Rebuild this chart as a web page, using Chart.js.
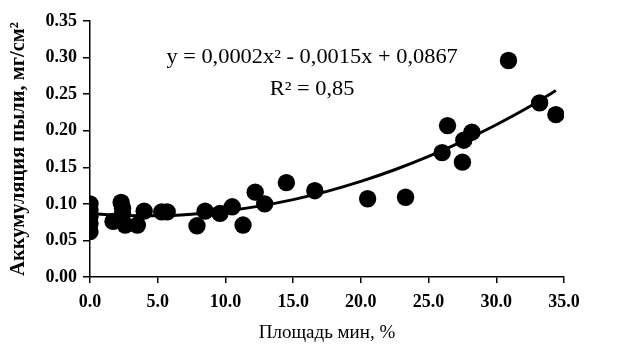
<!DOCTYPE html>
<html>
<head>
<meta charset="utf-8">
<script src="https://cdn.jsdelivr.net/npm/chart.js@4"></script>
<style>
html,body{margin:0;padding:0;background:#fff;}
#wrap{width:617px;height:353px;}
</style>
</head>
<body>
<div id="wrap"><canvas id="c" width="617" height="353"></canvas></div>
<script>
// Scatter points: mine area, % vs dust accumulation, mg/cm2
const areaPct = [0, 0, 0, 0, 0, 1.7, 2.3, 2.4, 2.4, 2.6, 3.5, 4.0, 5.3, 5.7, 7.9, 8.5, 9.6, 10.5, 11.3, 12.2, 12.9, 14.5, 16.6, 20.5, 23.3, 26.0, 26.4, 27.5, 27.6, 28.2, 30.9, 33.2, 34.4];
const dustAcc = [0.100, 0.092, 0.083, 0.073, 0.062, 0.076, 0.102, 0.094, 0.086, 0.071, 0.071, 0.090, 0.089, 0.089, 0.070, 0.090, 0.087, 0.096, 0.071, 0.116, 0.100, 0.129, 0.118, 0.107, 0.109, 0.170, 0.207, 0.157, 0.187, 0.198, 0.296, 0.238, 0.222];

// Trend curve
const trendX = [0, 2.5, 5, 7.5, 10, 12.5, 15, 17.5, 20, 22.5, 25, 27.5, 30, 32.5, 34.4];
const trendY = [0.0867, 0.0841, 0.0838, 0.0859, 0.0902, 0.0969, 0.1058, 0.1171, 0.1307, 0.1466, 0.1648, 0.1854, 0.2082, 0.2334, 0.2550];

const xTicks = [0, 5, 10, 15, 20, 25, 30, 35];
const yTicks = [0, 0.05, 0.10, 0.15, 0.20, 0.25, 0.30, 0.35];

const equationLine = 'y = 0,0002x² - 0,0015x + 0,0867';
const r2Line = 'R² = 0,85';
const xTitle = 'Площадь мин, %';
const yTitle = 'Аккумуляция пыли, мг/см²';

const FONT = "'Liberation Serif', 'Times New Roman', serif";

const annotationPlugin = {
  id: 'eqText',
  afterDraw(chart) {
    const ctx = chart.ctx;
    const xs = chart.scales.x, ys = chart.scales.y;
    const cx = xs.getPixelForValue(16.4);
    const stretch = 1.12;
    ctx.save();
    ctx.fillStyle = '#000';
    ctx.font = "20px " + FONT;
    ctx.textAlign = 'center';
    ctx.textBaseline = 'alphabetic';
    ctx.translate(cx, 0);
    ctx.scale(stretch, 1);
    ctx.fillText(equationLine, 0, ys.getPixelForValue(0.292));
    ctx.fillText(r2Line, 0, ys.getPixelForValue(0.249));
    ctx.restore();
  }
};

const trendData = trendX.map((x, i) => ({x: x, y: trendY[i]}));
const pointData = areaPct.map((x, i) => ({x: x, y: dustAcc[i]}));

new Chart(document.getElementById('c'), {
  type: 'scatter',
  data: {
    datasets: [
      {
        type: 'line',
        data: trendData,
        borderColor: '#000',
        borderWidth: 3,
        pointRadius: 0,
        fill: false,
        tension: 0.4,
        cubicInterpolationMode: 'monotone',
        order: 2
      },
      {
        data: pointData,
        backgroundColor: '#000',
        borderColor: '#000',
        borderWidth: 0,
        pointRadius: 8.7,
        order: 1
      }
    ]
  },
  options: {
    responsive: false,
    devicePixelRatio: 1,
    animation: false,
    layout: { padding: { top: 21, right: 53, left: 0, bottom: 0 } },
    plugins: { legend: { display: false }, tooltip: { enabled: false } },
    scales: {
      x: {
        type: 'linear',
        min: 0, max: 35,
        afterFit(s) { s.height = 76; },
        afterBuildTicks(s) { s.ticks = xTicks.map(v => ({value: v})); },
        ticks: {
          color: '#000',
          padding: 9,
          font: { family: FONT, size: 18, weight: 'bold' },
          callback: v => Number(v).toFixed(1)
        },
        grid: { drawOnChartArea: false, drawTicks: true, tickLength: 6, color: '#000', lineWidth: 1.5 },
        border: { color: '#000', width: 1.5 },
        title: { display: true, text: xTitle, color: '#000', font: { family: FONT, size: 19 }, padding: { top: 0, bottom: 9 } }
      },
      y: {
        type: 'linear',
        min: 0, max: 0.35,
        afterFit(s) { s.width = 90; },
        afterBuildTicks(s) { s.ticks = yTicks.map(v => ({value: v})); },
        ticks: {
          color: '#000',
          padding: 6,
          font: { family: FONT, size: 18, weight: 'bold' },
          callback: v => Number(v).toFixed(2)
        },
        grid: { drawOnChartArea: false, drawTicks: true, tickLength: 7, color: '#000', lineWidth: 1.5 },
        border: { color: '#000', width: 1.5 },
        title: { display: true, text: yTitle, color: '#000', font: { family: FONT, size: 20.5, weight: 'bold' }, padding: { top: 6, bottom: 0 } }
      }
    }
  },
  plugins: [annotationPlugin]
});
</script>
</body>
</html>
